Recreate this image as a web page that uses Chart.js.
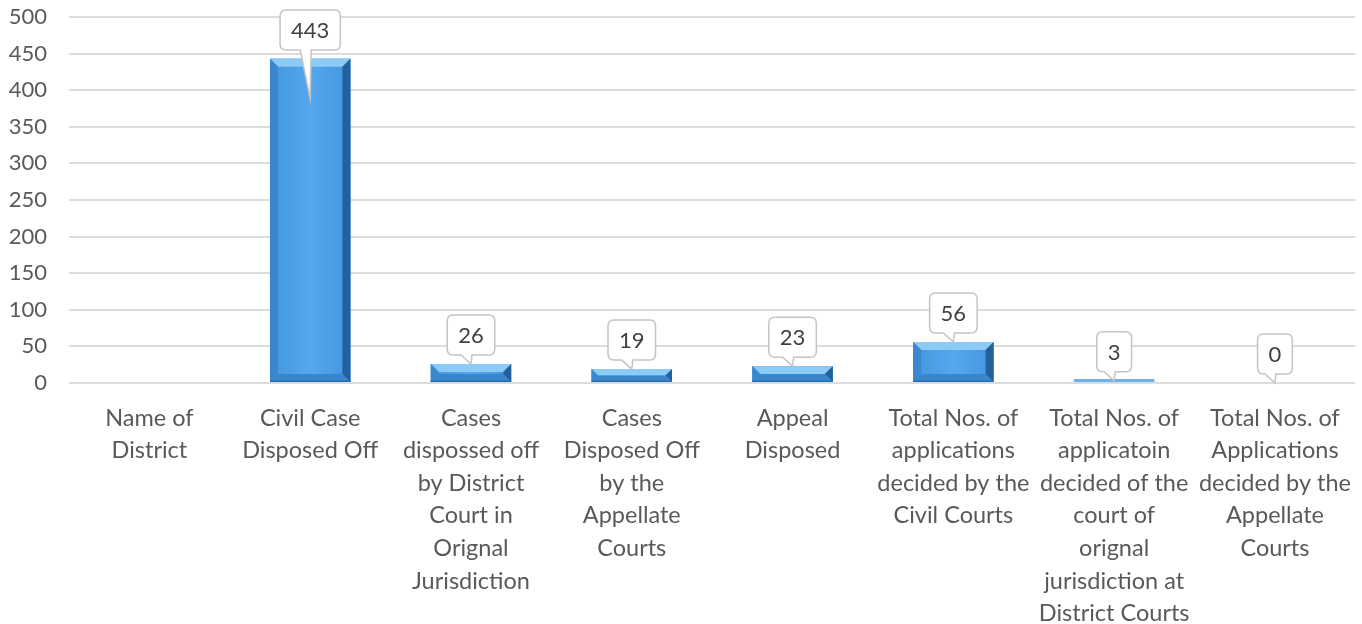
<!DOCTYPE html>
<html>
<head>
<meta charset="utf-8">
<script src="https://cdn.jsdelivr.net/npm/chart.js@4.4.1/dist/chart.umd.min.js"></script>
<style>
  html, body { margin: 0; padding: 0; background: #ffffff; }
  #wrap { width: 1362px; height: 624px; }
</style>
</head>
<body>
<div id="wrap"><canvas id="casesChart" width="1362" height="624"></canvas></div>
<script>
// categories (x axis, already split into lines as in the picture)
const categories = [
    ['Name of', 'District'],
    ['Civil Case', 'Disposed Off'],
    ['Cases', 'dispossed off', 'by District', 'Court in', 'Orignal', 'Jurisdiction'],
    ['Cases', 'Disposed Off', 'by the', 'Appellate', 'Courts'],
    ['Appeal', 'Disposed'],
    ['Total Nos. of', 'applications', 'decided by the', 'Civil Courts'],
    ['Total Nos. of', 'applicatoin', 'decided of the', 'court of', 'orignal', 'jurisdiction at', 'District Courts'],
    ['Total Nos. of', 'Applications', 'decided by the', 'Appellate', 'Courts']
];

// values, null = no bar and no label
const disposedValues = [null, 443, 26, 19, 23, 56, 3, 0];

// y axis
const yMin = 0;
const yMax = 500;
const yStep = 50;

const FONT = 'Lato, "Open Sans", sans-serif';
const TEXT_COLOR = '#595959';

// bevel look for the bars (Excel style)
const bevelPlugin = {
    id: 'bevel',
    afterDatasetsDraw(chart) {
        const c = chart.ctx;
        const meta = chart.getDatasetMeta(0);
        meta.data.forEach((bar, i) => {
            if (disposedValues[i] === null) return;
            const left = bar.x - bar.width / 2;
            const right = bar.x + bar.width / 2;
            const top = Math.min(bar.y, bar.base);
            const bottom = Math.max(bar.y, bar.base);
            const h = bottom - top;
            if (h <= 0) return;

            c.save();
            if (h < 4) {
                // very small bar: just a thin light line
                c.fillStyle = '#6fb3ee';
                c.fillRect(left, bottom - 3, bar.width, 3);
                c.restore();
                return;
            }
            const b = Math.min(8, h / 2, bar.width / 2);

            // main fill
            const g = c.createLinearGradient(left, 0, right, 0);
            g.addColorStop(0, '#4395de');
            g.addColorStop(0.5, '#55a7ee');
            g.addColorStop(1, '#4395de');
            c.fillStyle = g;
            c.fillRect(left, top, bar.width, h);

            // top bevel (light)
            c.beginPath();
            c.moveTo(left, top);
            c.lineTo(right, top);
            c.lineTo(right - b, top + b);
            c.lineTo(left + b, top + b);
            c.closePath();
            c.fillStyle = '#8ccbf6';
            c.fill();

            // left bevel
            c.beginPath();
            c.moveTo(left, top);
            c.lineTo(left + b, top + b);
            c.lineTo(left + b, bottom - b);
            c.lineTo(left, bottom);
            c.closePath();
            c.fillStyle = '#3b87cf';
            c.fill();

            // right bevel (dark)
            c.beginPath();
            c.moveTo(right, top);
            c.lineTo(right - b, top + b);
            c.lineTo(right - b, bottom - b);
            c.lineTo(right, bottom);
            c.closePath();
            c.fillStyle = '#24619c';
            c.fill();

            // bottom bevel
            c.beginPath();
            c.moveTo(left, bottom);
            c.lineTo(left + b, bottom - b);
            c.lineTo(right - b, bottom - b);
            c.lineTo(right, bottom);
            c.closePath();
            c.fillStyle = '#3a86cd';
            c.fill();

            // thin dark edge at the bottom
            c.fillStyle = '#2a6aa8';
            c.fillRect(left, bottom - 1.5, bar.width, 1.5);
            c.restore();
        });
    }
};

// callout value labels
const calloutPlugin = {
    id: 'callouts',
    afterDatasetsDraw(chart) {
        const c = chart.ctx;
        const meta = chart.getDatasetMeta(0);
        c.save();
        c.font = '22px ' + FONT;
        meta.data.forEach((bar, i) => {
            const v = disposedValues[i];
            if (v === null) return;
            const txt = String(v);
            const tw = c.measureText(txt).width;
            const w = Math.max(33, tw + 22);
            const h = 40;
            const cx = bar.x;
            let boxBottom = bar.y - 9;
            let boxTop = boxBottom - h;
            let tipY = bar.y;
            if (boxTop < 10) {
                boxTop = 10;
                boxBottom = boxTop + h;
                tipY = Math.min(bar.y + 40, bar.base);
            }
            const bl = cx - w / 2;
            const r = 6;

            c.beginPath();
            c.moveTo(bl + r, boxTop);
            c.lineTo(bl + w - r, boxTop);
            c.quadraticCurveTo(bl + w, boxTop, bl + w, boxTop + r);
            c.lineTo(bl + w, boxBottom - r);
            c.quadraticCurveTo(bl + w, boxBottom, bl + w - r, boxBottom);
            c.lineTo(cx + 1, boxBottom);
            c.lineTo(cx, tipY);
            c.lineTo(cx - 10, boxBottom);
            c.lineTo(bl + r, boxBottom);
            c.quadraticCurveTo(bl, boxBottom, bl, boxBottom - r);
            c.lineTo(bl, boxTop + r);
            c.quadraticCurveTo(bl, boxTop, bl + r, boxTop);
            c.closePath();
            c.fillStyle = '#ffffff';
            c.fill();
            c.lineWidth = 1.5;
            c.strokeStyle = '#c4c4c4';
            c.stroke();

            c.fillStyle = '#404040';
            c.textAlign = 'center';
            c.textBaseline = 'middle';
            c.fillText(txt, cx, (boxTop + boxBottom) / 2 + 1);
        });
        c.restore();
    }
};

const ctx = document.getElementById('casesChart').getContext('2d');

const casesChart = new Chart(ctx, {
    type: 'bar',
    data: {
        labels: categories,
        datasets: [{
            label: 'Disposed',
            data: disposedValues,
            backgroundColor: '#4a9fe8',
            borderWidth: 0,
            categoryPercentage: 1,
            barPercentage: 0.5
        }]
    },
    options: {
        responsive: false,
        animation: false,
        layout: {
            padding: { top: 17, right: 0, left: 0, bottom: 0 }
        },
        plugins: {
            legend: { display: false },
            tooltip: { enabled: false }
        },
        scales: {
            x: {
                grid: { display: false },
                border: { display: false },
                ticks: {
                    color: TEXT_COLOR,
                    font: { family: FONT, size: 23.5, lineHeight: 1.385 },
                    maxRotation: 0,
                    autoSkip: false,
                    padding: 11
                },
                afterFit(scale) { scale.height = 241; }
            },
            y: {
                min: yMin,
                max: yMax,
                grid: { color: '#dcdcdc', lineWidth: 2, drawTicks: false },
                border: { display: false },
                ticks: {
                    stepSize: yStep,
                    color: TEXT_COLOR,
                    font: { family: FONT, size: 22 },
                    padding: 22
                },
                afterFit(scale) {
                    scale.width = 69;
                    scale.paddingTop = 0;
                    scale.paddingBottom = 0;
                }
            }
        }
    },
    plugins: [bevelPlugin, calloutPlugin]
});
</script>
</body>
</html>
